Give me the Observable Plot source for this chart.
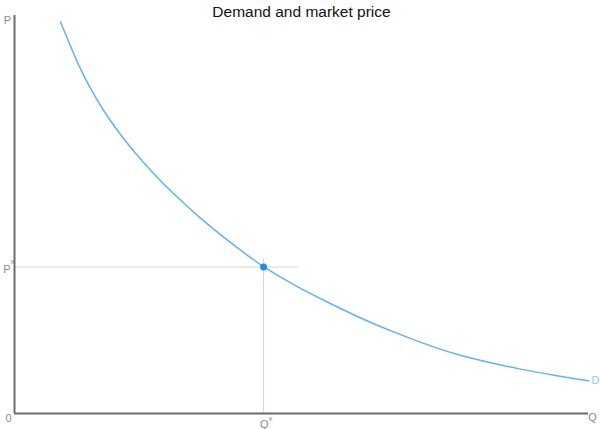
<!DOCTYPE html>
<html><head><meta charset="utf-8">
<script src="https://cdn.jsdelivr.net/npm/d3@7"></script>
<script src="https://cdn.jsdelivr.net/npm/@observablehq/plot@0.6"></script>
<style>body{margin:0;background:#fff;font-family:"Liberation Sans",Arial,sans-serif}</style>
</head><body><div id="chart"></div>
<script>
const title = "Demand and market price";
const demandQ = [8.0, 9.5, 11.5, 14.1, 16.7, 19.3, 22.3, 25.7, 28.9, 32.4, 37.1, 40.5, 43.4, 48.7, 54.5, 60.3, 66.1, 72.2, 76.5, 82.4, 88.2, 94.0, 100.0];
const demandP = [98.4, 93.2, 86.3, 79.3, 73.5, 68.4, 63.3, 58.0, 53.6, 49.0, 43.5, 39.8, 36.8, 32.2, 28.0, 23.9, 20.4, 17.1, 15.0, 12.9, 11.1, 9.6, 8.2];
const marketQ = [43.4];
const marketP = [36.8];
const guideHEnd = [49.4];
const guideVStart = [38.8];
const curveLabel = ["D"];

const demand = demandQ.map((q, i) => ({q, p: demandP[i]}));
const market = marketQ.map((q, i) => ({q, p: marketP[i], hEnd: guideHEnd[i], vStart: guideVStart[i]}));
const blue = "#62b2f2";
const axisColor = "#6b6b6b";
const labelColor = "#8a8a8a";

const chart = Plot.plot({
  width: 600, height: 429,
  marginLeft: 14, marginRight: 12, marginTop: 15, marginBottom: 16,
  x: {domain: [0, 100], axis: null},
  y: {domain: [0, 100], axis: null},
  style: {fontFamily: '"Liberation Sans", Arial, sans-serif', background: "#fff"},
  marks: [
    Plot.ruleY(market, {y: "p", x1: 0, x2: "hEnd", stroke: "#d4d4d4", strokeWidth: 1}),
    Plot.ruleX(market, {x: "q", y1: 0, y2: "vStart", stroke: "#d4d4d4", strokeWidth: 1}),
    Plot.line(demand, {x: "q", y: "p", curve: "basis", stroke: blue, strokeWidth: 1.5}),
    Plot.dot(market, {x: "q", y: "p", r: 3.5, fill: "#1a8ff0", stroke: "none"}),
    Plot.ruleX([0], {y1: 0, y2: 100, stroke: axisColor, strokeWidth: 2}),
    Plot.ruleY([0], {x1: 0, x2: 100, stroke: axisColor, strokeWidth: 2}),
    Plot.text([title], {frameAnchor: "top", dy: -10, fontSize: 15.5, fill: "#111"}),
    Plot.text(["P"], {x: 0, y: 100, dx: -7, dy: 5, fontSize: 11, fill: labelColor}),
    Plot.text(["0"], {x: 0, y: 0, dx: -6, dy: 5, fontSize: 11, fill: labelColor}),
    Plot.text(["Q"], {x: 100, y: 0, dx: 4, dy: 4, fontSize: 11, fill: labelColor}),
    Plot.text(market, {x: "q", y: 0, text: () => "Q", dy: 11, dx: 5, textAnchor: "end", fontSize: 11, fill: labelColor}),
    Plot.text(market, {x: "q", y: 0, text: () => "x", dy: 5, dx: 5, textAnchor: "start", fontSize: 8, fill: labelColor}),
    Plot.text(market, {x: 0, y: "p", text: () => "P", dx: -4, dy: 2, textAnchor: "end", fontSize: 11, fill: labelColor}),
    Plot.text(market, {x: 0, y: "p", text: () => "x", dx: -4, dy: -6, textAnchor: "start", fontSize: 8, fill: labelColor}),
    Plot.text(curveLabel, {x: demandQ[demandQ.length - 1], y: demandP[demandP.length - 1], dx: 7, dy: 0, fontSize: 11, fill: "#8fc6f2"})
  ]
});
document.getElementById("chart").appendChild(chart);
</script></body></html>
